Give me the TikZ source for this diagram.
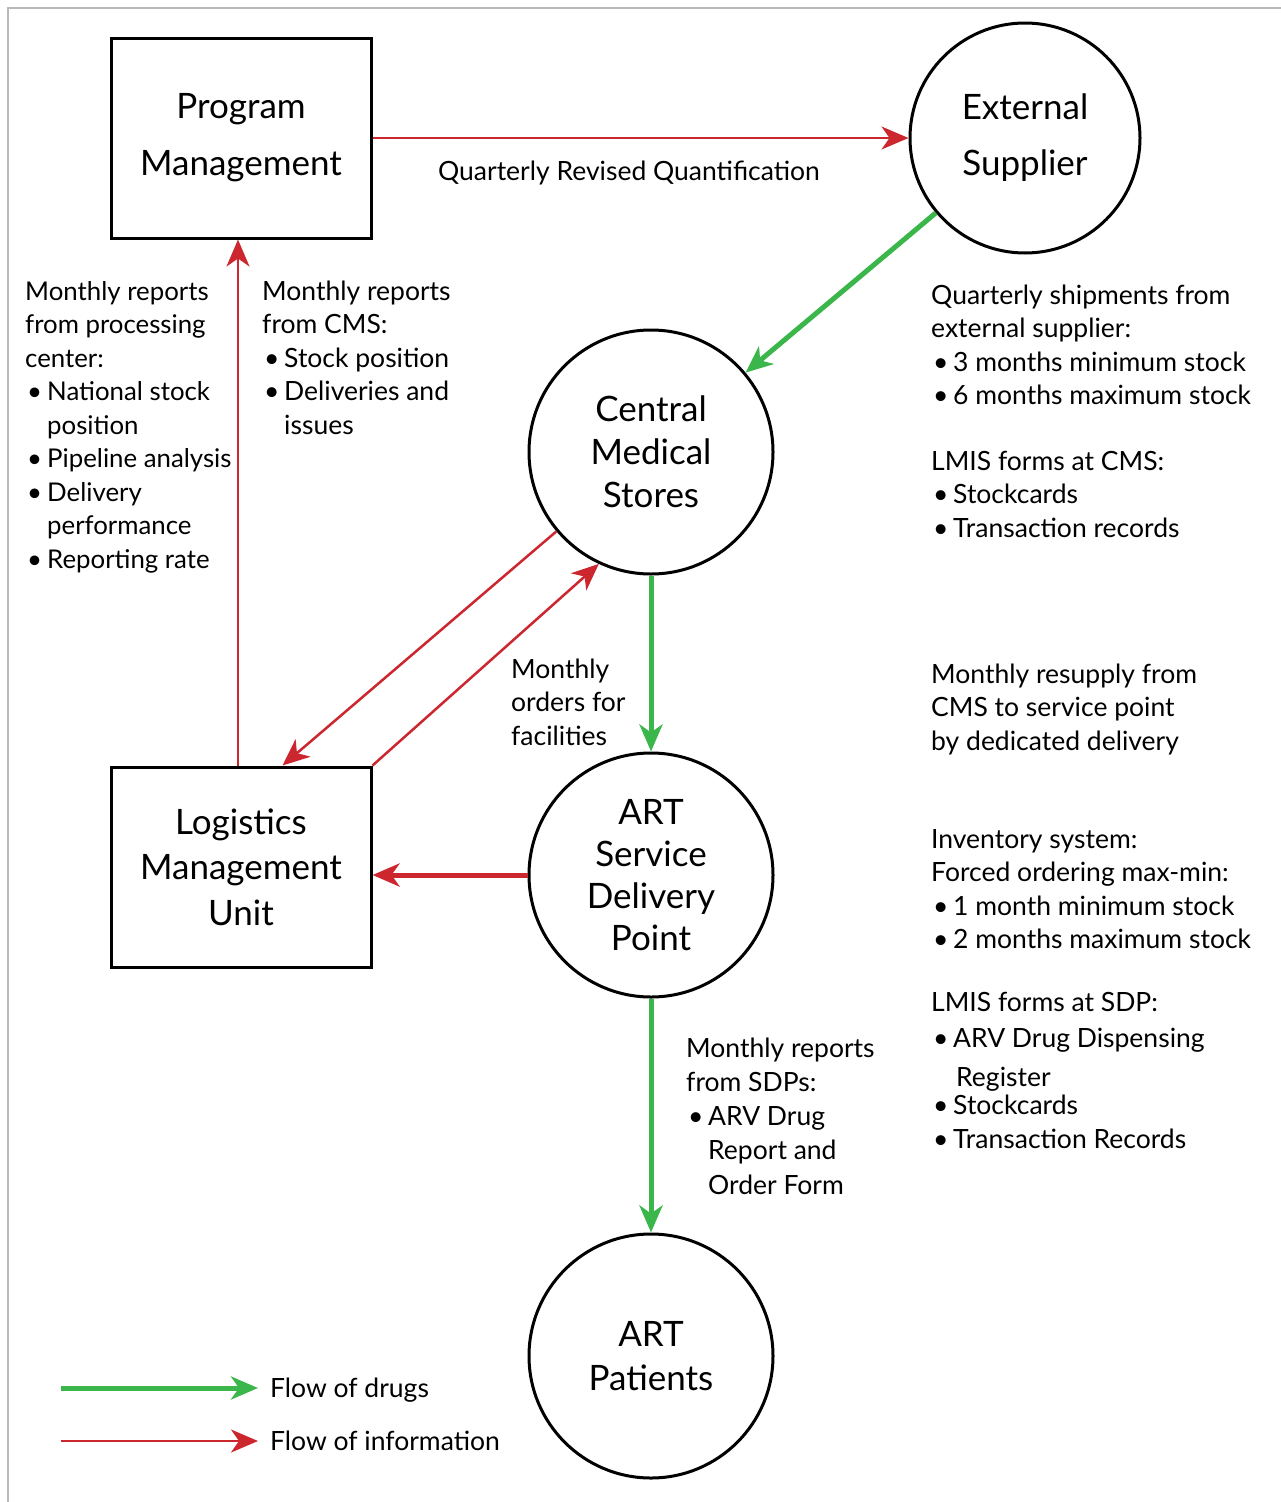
\documentclass[tikz,border=0pt]{standalone}
\usepackage{fontspec}
\setmainfont{Lato}
\usetikzlibrary{arrows.meta,calc}
\definecolor{infored}{RGB}{204,38,46}
\definecolor{druggreen}{RGB}{58,182,74}
\definecolor{framegray}{RGB}{185,185,185}
\newcommand\bul{\makebox[22pt][l]{\hspace{2pt}\textbullet}}
\newcommand\ind{\hspace*{22pt}}
\begin{document}
\begin{tikzpicture}[x=1pt,y=-1pt,
  tip/.style={-{Stealth[length=27pt,width=23pt,inset=8pt]}},
  info/.style={tip,draw=infored,fill=infored,line width=2.5pt},
  infothick/.style={tip,draw=infored,fill=infored,line width=5pt},
  drug/.style={tip,draw=druggreen,fill=druggreen,line width=5pt},
  box/.style={draw=black,line width=3pt,minimum width=260pt,minimum height=200pt,align=center,inner sep=0pt},
  circ/.style={draw=black,line width=3pt,circle,minimum size=244pt,align=center,inner sep=0pt},
  ttl/.style={font=\fontsize{35}{43}\selectfont},
  txt/.style={font=\fontsize{26.5}{33.5}\selectfont,align=left,inner sep=0pt,anchor=base west}]
\useasboundingbox (0,0) rectangle (1281,1502);
\draw[framegray,line width=2pt] (8,1502) coordinate (fbl) -- (8,8) coordinate (ftl) -- (1281,8) coordinate (ftr);
% main nodes
\node[box,font=\fontsize{35}{57}\selectfont] (pm) at (241,138) {Program\\Management};
\node[circ,minimum size=230pt,font=\fontsize{35}{56}\selectfont] (es) at (1025,138) {External\\Supplier};
\node[circ,ttl] (cms) at (651,452) {Central\\Medical\\Stores};
\node[circ,font=\fontsize{35}{42}\selectfont] (sdp) at (651,875) {ART\\Service\\Delivery\\Point};
\node[circ,font=\fontsize{35}{44}\selectfont] (pat) at (651,1356) {ART\\Patients};
\node[box,font=\fontsize{35}{45.5}\selectfont] (lmu) at (241,867) {Logistics\\Management\\Unit};
% connectors
\draw[info] (pm.east) -- (es.west);
\draw[drug] (es) -- (cms);
\draw[drug] (cms.south) -- (sdp.north);
\draw[drug] (sdp.south) -- (pat.north);
\draw[infothick] (sdp.west) -- (sdp.west -| lmu.east);
\draw[info] ([xshift=-3pt]lmu.north) -- ([xshift=-3pt]pm.south);
\draw[info] (cms.220) -- ([xshift=173pt]lmu.north west);
\draw[info] (lmu.north east) -- (cms.245);
% labels (anchor base = baseline of last line)
\node[txt,anchor=base] (lq) at (629,180) {Quarterly Revised Quantification};
\node[txt,font=\fontsize{25.8}{33.5}\selectfont] (lleft) at (25,568) {Monthly reports\\from processing\\center:\\\bul National stock\\\ind position\\\bul Pipeline analysis\\\bul Delivery\\\ind performance\\\bul Reporting rate};
\node[txt] (lmid) at (262,434) {Monthly reports\\from CMS:\\\bul Stock position\\\bul Deliveries and\\\ind issues};
\node[txt] (r1) at (931,404.5) {Quarterly shipments from\\external supplier:\\\bul 3 months minimum stock\\\bul 6 months maximum stock};
\node[txt] (r2) at (931,537) {LMIS forms at CMS:\\\bul Stockcards\\\bul Transaction records};
\node[txt] (r3) at (931,750) {Monthly resupply from\\CMS to service point\\by dedicated delivery};
\node[txt] (r4) at (931,948.5) {Inventory system:\\Forced ordering max-min:\\\bul 1 month minimum stock\\\bul 2 months maximum stock};
\node[txt,font=\fontsize{26.5}{36}\selectfont] (r5) at (931,1047) {LMIS forms at SDP:\\\bul ARV Drug Dispensing};
\node[txt] (r5b) at (956,1086) {Register};
\node[txt,font=\fontsize{26.5}{34}\selectfont] (r5c) at (931,1148) {\bul Stockcards\\\bul Transaction Records};
\node[txt] (lord) at (511,745) {Monthly\\orders for\\facilities};
\node[txt,font=\fontsize{26.5}{34.2}\selectfont] (lsdp) at (686,1194) {Monthly reports\\from SDPs:\\\bul ARV Drug\\\ind Report and\\\ind Order Form};
% legend
\coordinate (g1) at (61,1388); \coordinate (g2) at (258,1388);
\coordinate (r1a) at (61,1441); \coordinate (r2a) at (258,1441);
\draw[drug] (g1) -- (g2);
\draw[info] (r1a) -- (r2a);
\node[txt] (leg1) at (270,1397) {Flow of drugs};
\node[txt] (leg2) at (270,1450) {Flow of information};
\end{tikzpicture}
\end{document}
